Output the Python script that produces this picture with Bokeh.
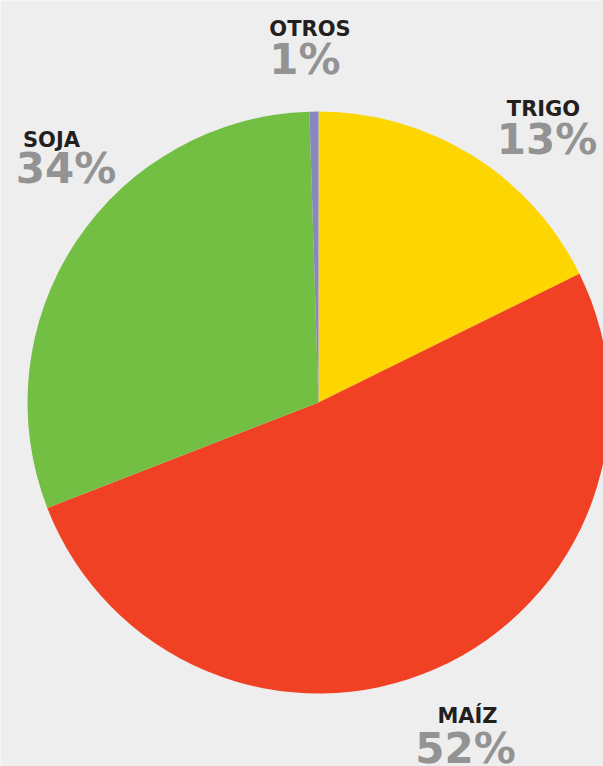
import numpy as np
from bokeh.plotting import figure
from bokeh.models import Range1d, ColumnDataSource
from bokeh.core.properties import value
from bokeh.embed import file_html
from bokeh.resources import INLINE

# ---- data (clockwise from 12 o'clock) ----
categories = ["TRIGO", "MAÍZ", "SOJA", "OTROS"]
shares = [17.7, 51.4, 30.4, 0.5]          # drawn wedge sizes (%)
pct_labels = ["13%", "52%", "34%", "1%"]   # printed labels
colors = ["#FDD500", "#F04124", "#72BF44", "#8A87C0"]

W, H = 603, 766
BG = "#eeeeee"

p = figure(width=W, height=H, output_backend="svg", toolbar_location=None,
           x_range=Range1d(0, W), y_range=Range1d(0, H), min_border=0)
p.axis.visible = False
p.grid.visible = False
p.outline_line_color = None
p.background_fill_color = BG
p.border_fill_color = BG

vals = np.array(shares, dtype=float)
frac = vals / vals.sum() * 2 * np.pi
cum_end = np.cumsum(frac)
cum_start = cum_end - frac
src = ColumnDataSource(dict(
    cat=categories,
    start=np.pi / 2 - cum_start,
    end=np.pi / 2 - cum_end,
    color=colors,
))
cx, cy, r = 318, 364, 291
p.wedge(x=cx, y=cy, radius=r, start_angle="start", end_angle="end",
        direction="clock", fill_color="color", line_color=None, source=src)

# label layout (data coords)
name_pos = {"TRIGO": (543, 658), "MAÍZ": (467, 51), "SOJA": (51, 627), "OTROS": (309.5, 738)}
pct_pos = {"TRIGO": (546.5, 627), "MAÍZ": (465, 18), "SOJA": (65.5, 598), "OTROS": (304.5, 707)}

for cat, pl in zip(categories, pct_labels):
    nx, ny = name_pos[cat]
    px_, py_ = pct_pos[cat]
    p.text(x=[nx], y=[ny], text=[cat], text_font=value("DejaVu Sans"),
           text_font_style="bold", text_font_size="21px", text_color="#231f20",
           text_align="center", text_baseline="alphabetic")
    p.text(x=[px_], y=[py_], text=[pl], text_font=value("DejaVu Sans"),
           text_font_style="bold", text_font_size="42px", text_color="#939393",
           text_align="center", text_baseline="alphabetic")

html = file_html(p, INLINE)
html = html.replace("<body>", '<body style="background:#eeeeee">', 1)
open("out.html", "w").write(html)
